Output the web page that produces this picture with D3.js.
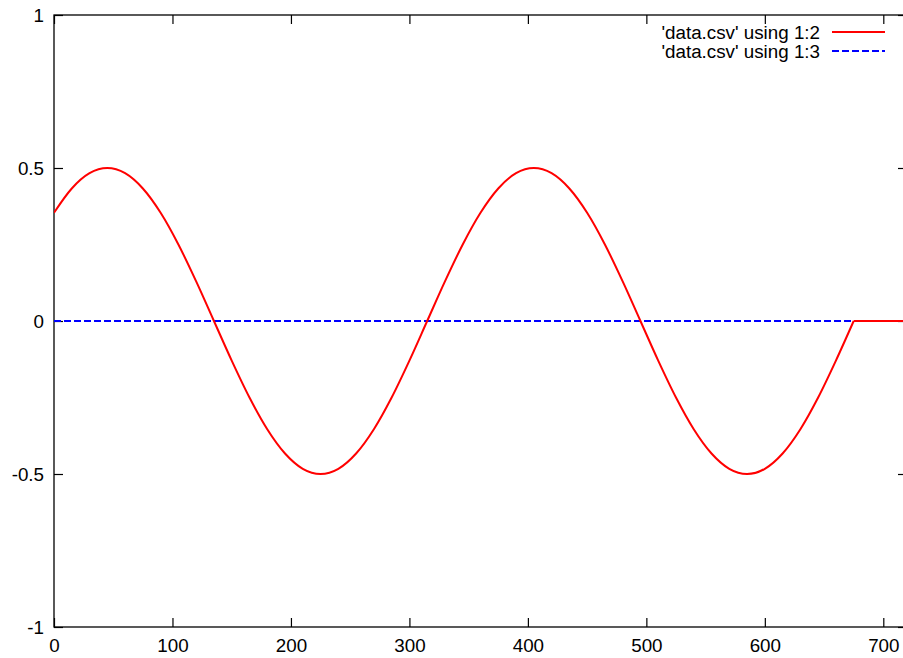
<!DOCTYPE html>
<html>
<head>
<meta charset="utf-8">
<script src="https://cdn.jsdelivr.net/npm/d3@7"></script>
<style>
  html, body { margin: 0; padding: 0; background: #fff; }
  svg { display: block; }
  text { font-family: "Liberation Sans", Arial, sans-serif; font-size: 18.8px; fill: #000; }
</style>
</head>
<body>
<svg id="chart" width="903" height="658"></svg>
<script>
// ---- data ----
const xValues = [0,15,30,45,60,75,90,105,120,135,150,165,180,195,210,225,240,255,270,285,300,315,330,345,360,375,390,405,420,435,450,465,480,495,510,525,540,555,570,585,600,615,630,645,660,675,690,705,720];
const series2 = [0.3536,0.4330,0.4830,0.5,0.4830,0.4330,0.3536,0.25,0.1294,0,-0.1294,-0.25,-0.3536,-0.4330,-0.4830,-0.5,-0.4830,-0.4330,-0.3536,-0.25,-0.1294,0,0.1294,0.25,0.3536,0.4330,0.4830,0.5,0.4830,0.4330,0.3536,0.25,0.1294,0,-0.1294,-0.25,-0.3536,-0.4330,-0.4830,-0.5,-0.4830,-0.4330,-0.3536,-0.25,-0.1294,0,0,0,0];
const series3 = [0,0,0,0,0,0,0,0,0,0,0,0,0,0,0,0,0,0,0,0,0,0,0,0,0,0,0,0,0,0,0,0,0,0,0,0,0,0,0,0,0,0,0,0,0,0,0,0,0];
const seriesNames = ["'data.csv' using 1:2", "'data.csv' using 1:3"];
const xTicks = [0,100,200,300,400,500,600,700];
const yTicks = [-1,-0.5,0,0.5,1];
const yTickLabels = ["-1","-0.5","0","0.5","1"];

// ---- layout ----
const mLeft = 54, mRight = 907, mTop = 15, mBottom = 627;
const svg = d3.select("#chart");

const x = d3.scaleLinear().domain([0, 720]).range([mLeft, mRight]);
const y = d3.scaleLinear().domain([-1, 1]).range([mBottom, mTop]);

svg.append("defs").append("clipPath").attr("id", "clip")
  .append("rect").attr("x", mLeft).attr("y", mTop).attr("width", mRight - mLeft).attr("height", mBottom - mTop);

// axes (ticks inward)
const fmtY = d => yTickLabels[yTicks.indexOf(d)];
const gB = svg.append("g").attr("transform", `translate(0,${mBottom})`)
  .call(d3.axisBottom(x).tickValues(xTicks).tickSize(-9).tickPadding(12).tickFormat(d => String(d)));
const gT = svg.append("g").attr("transform", `translate(0,${mTop})`)
  .call(d3.axisTop(x).tickValues(xTicks).tickSize(-9).tickFormat(""));
const gL = svg.append("g").attr("transform", `translate(${mLeft},0)`)
  .call(d3.axisLeft(y).tickValues(yTicks).tickSize(-9).tickPadding(10).tickFormat(fmtY));
const gR = svg.append("g").attr("transform", `translate(${mRight},0)`)
  .call(d3.axisRight(y).tickValues(yTicks).tickSize(-9).tickFormat(""));
[gB, gT, gL, gR].forEach(g => {
  g.select(".domain").remove();
  g.selectAll("line").attr("stroke", "#000").attr("stroke-width", 1.2);
  g.selectAll("text").attr("font-family", "Liberation Sans, Arial, sans-serif").attr("font-size", 18.8).attr("fill", "#000");
});

// frame
svg.append("rect").attr("x", mLeft).attr("y", mTop).attr("width", mRight - mLeft).attr("height", mBottom - mTop)
  .attr("fill", "none").attr("stroke", "#000").attr("stroke-width", 1.3);

const plot = svg.append("g").attr("clip-path", "url(#clip)");

// series 1:3 (blue dashed)
const pts3 = xValues.map((v, i) => [v, series3[i]]);
plot.append("path").datum(pts3)
  .attr("d", d3.line().x(d => x(d[0])).y(d => y(d[1])))
  .attr("fill", "none").attr("stroke", "#0000ff").attr("stroke-width", 2)
  .attr("stroke-dasharray", "7,3");

// series 1:2 (red solid): smooth through sine part, straight along flat tail
const pts2 = xValues.map((v, i) => [v, series2[i]]);
const kink = xValues.indexOf(675);
plot.append("path").datum(pts2.slice(0, kink + 1))
  .attr("d", d3.line().x(d => x(d[0])).y(d => y(d[1])).curve(d3.curveMonotoneX))
  .attr("fill", "none").attr("stroke", "#ff0000").attr("stroke-width", 2);
plot.append("path").datum(pts2.slice(kink))
  .attr("d", d3.line().x(d => x(d[0])).y(d => y(d[1])))
  .attr("fill", "none").attr("stroke", "#ff0000").attr("stroke-width", 2);

// legend
const legend = [
  { name: seriesNames[0], color: "#ff0000", dash: null },
  { name: seriesNames[1], color: "#0000ff", dash: "7,3" }
];
const lg = svg.append("g");
legend.forEach((d, i) => {
  const ly = 32 + i * 19;
  lg.append("text").attr("x", 820).attr("y", ly + 7).attr("text-anchor", "end").text(d.name);
  lg.append("line").attr("x1", 832).attr("x2", 885).attr("y1", ly).attr("y2", ly)
    .attr("stroke", d.color).attr("stroke-width", 2)
    .attr("stroke-dasharray", d.dash);
});
</script>
</body>
</html>
